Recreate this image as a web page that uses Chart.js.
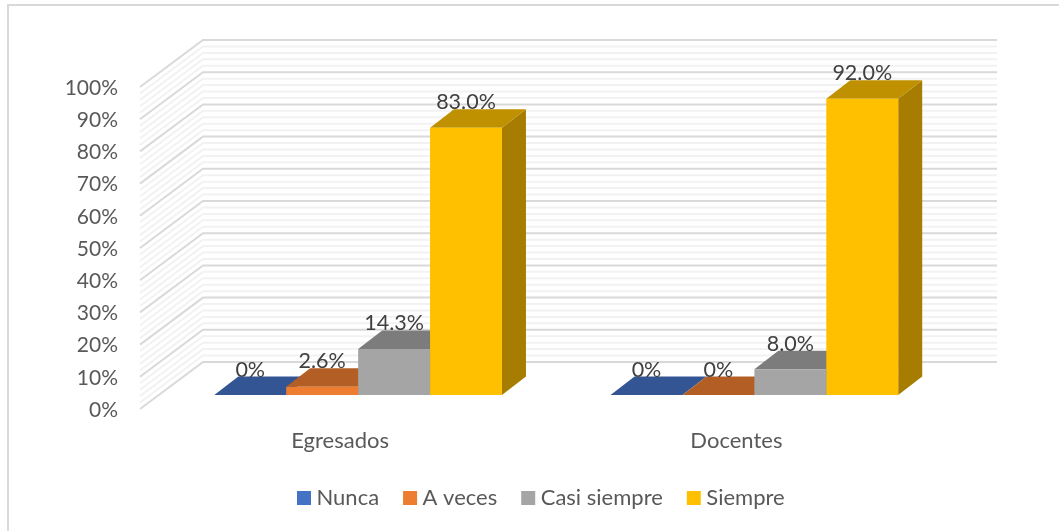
<!DOCTYPE html>
<html>
<head>
<meta charset="utf-8">
<style>
  html, body { margin: 0; padding: 0; background: #fff; }
  #wrap { width: 1059px; height: 531px; }
</style>
<script src="https://cdn.jsdelivr.net/npm/chart.js@4/dist/chart.umd.min.js"></script>
</head>
<body>
<div id="wrap"><canvas id="chart" width="1059" height="531"></canvas></div>
<script>
const categories = ["Egresados", "Docentes"];
const nunca = [0, 0];
const aVeces = [2.6, 0];
const casiSiempre = [14.3, 8];
const siempre = [83, 92];
const seriesNames = ["Nunca", "A veces", "Casi siempre", "Siempre"];
const frontColors = ["#4472c4", "#ed7d31", "#a5a5a5", "#ffc000"];
const topColors = ["#335593", "#b35e24", "#7c7c7c", "#bf9000"];
const sideColors = ["#294476", "#8e4b1d", "#636363", "#a67d00"];

const textColor = "#595959";
const fontFamily = "Lato, Carlito, sans-serif";

// depth of a bar, and where the walls sit relative to the bars' plane
const barDepth = { x: 24, y: 18.5 };
const frontWall = { x: -20, y: 14 };
const backWall = { x: 43, y: -33 };
const wallRight = 997;

// Excel style 3D walls and bar faces, drawn from the scales
const walls3d = {
  id: "walls3d",
  beforeDatasetsDraw(chart) {
    const { ctx, chartArea, scales } = chart;
    const y = scales.y;
    ctx.save();
    // frame of the original picture, only left and top show
    ctx.strokeStyle = "#d9d9d9";
    ctx.lineWidth = 2;
    ctx.beginPath();
    ctx.moveTo(8, 531);
    ctx.lineTo(8, 5);
    ctx.lineTo(1059, 5);
    ctx.stroke();

    for (let v = 0; v <= 100; v += 2) {
      const py = y.getPixelForValue(v);
      ctx.strokeStyle = v % 10 === 0 ? "#d9d9d9" : "#f2f2f2";
      ctx.lineWidth = 2;
      ctx.beginPath();
      ctx.moveTo(chartArea.left + frontWall.x, py + frontWall.y);
      ctx.lineTo(chartArea.left + backWall.x, py + backWall.y);
      ctx.lineTo(wallRight, py + backWall.y);
      ctx.stroke();
    }

    // sides and tops first, the front faces are painted over them by Chart.js
    const base = y.getPixelForValue(0);
    chart.data.datasets.forEach((ds, i) => {
      chart.getDatasetMeta(i).data.forEach((bar) => {
        const half = bar.width / 2;
        const l = bar.x - half;
        const r = bar.x + half;
        ctx.fillStyle = sideColors[i];
        ctx.beginPath();
        ctx.moveTo(r, base);
        ctx.lineTo(r + barDepth.x, base - barDepth.y);
        ctx.lineTo(r + barDepth.x, bar.y - barDepth.y);
        ctx.lineTo(r, bar.y);
        ctx.closePath();
        ctx.fill();
        ctx.fillStyle = topColors[i];
        ctx.beginPath();
        ctx.moveTo(l, bar.y);
        ctx.lineTo(l + barDepth.x, bar.y - barDepth.y);
        ctx.lineTo(r + barDepth.x, bar.y - barDepth.y);
        ctx.lineTo(r, bar.y);
        ctx.closePath();
        ctx.fill();
      });
    });
    ctx.restore();
  },
  afterDatasetsDraw(chart) {
    const { ctx } = chart;
    ctx.save();
    ctx.font = "21.5px " + fontFamily;
    ctx.fillStyle = "#404040";
    ctx.textAlign = "center";
    ctx.textBaseline = "alphabetic";
    chart.data.datasets.forEach((ds, i) => {
      chart.getDatasetMeta(i).data.forEach((bar, j) => {
        const val = ds.data[j];
        const txt = val === 0 ? "0%" : val.toFixed(1) + "%";
        ctx.fillText(txt, bar.x, bar.y - barDepth.y);
      });
    });

    // legend, small gap between swatch and text like the original
    ctx.font = "22px " + fontFamily;
    ctx.textAlign = "left";
    ctx.textBaseline = "middle";
    let x = 297;
    chart.data.datasets.forEach((ds) => {
      ctx.fillStyle = ds.backgroundColor;
      ctx.fillRect(x, 491, 14, 14);
      ctx.fillStyle = textColor;
      ctx.fillText(ds.label, x + 19.5, 498);
      x += 19.5 + ctx.measureText(ds.label).width + 24;
    });
    ctx.restore();
  }
};

const seriesValues = [nunca, aVeces, casiSiempre, siempre];

new Chart(document.getElementById("chart"), {
  type: "bar",
  data: {
    labels: categories,
    datasets: seriesNames.map((name, i) => ({
      label: name,
      data: seriesValues[i],
      backgroundColor: frontColors[i]
    }))
  },
  options: {
    responsive: false,
    animation: false,
    layout: { padding: { left: 0, right: 106.5, top: 73, bottom: 0 } },
    datasets: { bar: { barPercentage: 1, categoryPercentage: 0.726 } },
    plugins: { legend: { display: false }, tooltip: { enabled: false } },
    scales: {
      x: {
        grid: { display: false, drawTicks: false },
        border: { display: false },
        ticks: {
          color: textColor,
          font: { family: fontFamily, size: 22 },
          labelOffset: -18,
          padding: 33,
          maxRotation: 0
        },
        afterFit(scale) { scale.height = 136; }
      },
      y: {
        min: 0,
        max: 100,
        grid: { display: false, drawTicks: false },
        border: { display: false },
        ticks: {
          stepSize: 10,
          color: textColor,
          font: { family: fontFamily, size: 21 },
          labelOffset: 15,
          padding: 42,
          callback: (v) => v + "%"
        },
        afterFit(scale) { scale.width = 160; }
      }
    }
  },
  plugins: [walls3d]
});
</script>
</body>
</html>
